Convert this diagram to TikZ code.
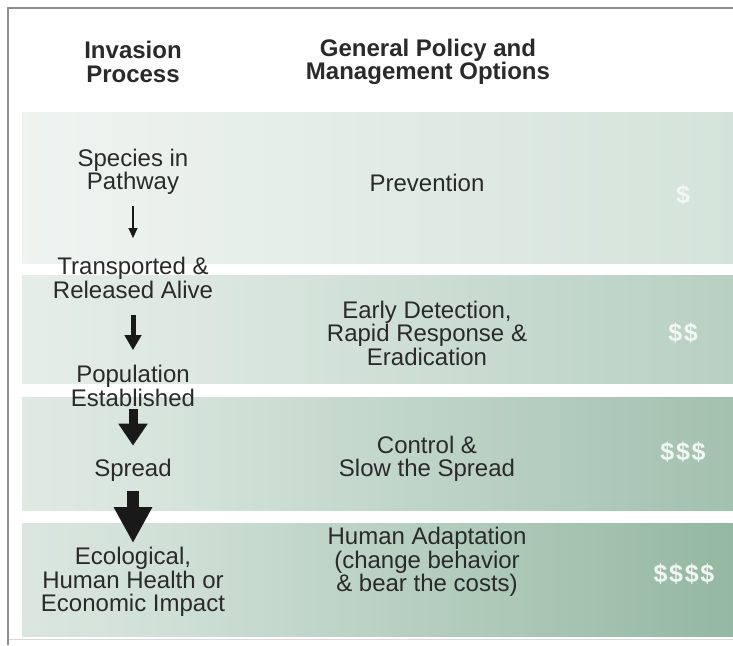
\documentclass[tikz,border=0pt]{standalone}
\usepackage{fontspec}
\setmainfont{Liberation Sans}
\usetikzlibrary{arrows.meta}
\definecolor{txt}{HTML}{2A2A2A}
\definecolor{framecol}{HTML}{8E8E8E}
\definecolor{dollar}{HTML}{F2F7F3}
\definecolor{bAa}{HTML}{F8FAF9}\definecolor{bAb}{HTML}{EAF1ED}\definecolor{bAc}{HTML}{DCE8E1}\definecolor{bAd}{HTML}{C6DBCF}
\definecolor{bBa}{HTML}{F6F8F7}\definecolor{bBb}{HTML}{DEE9E3}\definecolor{bBc}{HTML}{C6D9CE}\definecolor{bBd}{HTML}{A0C1AE}
\definecolor{bCa}{HTML}{F5F8F6}\definecolor{bCb}{HTML}{D6E4DC}\definecolor{bCc}{HTML}{B6CEC0}\definecolor{bCd}{HTML}{80AB92}
\definecolor{bDa}{HTML}{F4F7F5}\definecolor{bDb}{HTML}{D0E0D7}\definecolor{bDc}{HTML}{ABC7B6}\definecolor{bDd}{HTML}{6C9E80}
\pgfdeclarehorizontalshading{bandA}{100bp}{color(0bp)=(bAa); color(35bp)=(bAb); color(60bp)=(bAc); color(100bp)=(bAd)}
\pgfdeclarehorizontalshading{bandB}{100bp}{color(0bp)=(bBa); color(35bp)=(bBb); color(60bp)=(bBc); color(100bp)=(bBd)}
\pgfdeclarehorizontalshading{bandC}{100bp}{color(0bp)=(bCa); color(35bp)=(bCb); color(60bp)=(bCc); color(100bp)=(bCd)}
\pgfdeclarehorizontalshading{bandD}{100bp}{color(0bp)=(bDa); color(35bp)=(bDb); color(60bp)=(bDc); color(100bp)=(bDd)}
\newcommand{\dol}{\$}
\newcommand{\dsep}{\kern1.7pt}
\tikzset{
  lbl/.style={align=center, inner sep=0pt, text=txt, font=\fontsize{24}{23.5}\selectfont},
  hdr/.style={lbl, font=\fontsize{24}{23.5}\selectfont\bfseries},
  cost/.style={inner sep=0pt, text=dollar, font=\fontsize{25}{25}\selectfont\bfseries},
  flow/.style={draw=black!90, line cap=butt},
  arrA/.style={flow, line width=2pt, -{Triangle[width=8.5pt,length=10pt]}},
  arrB/.style={flow, line width=5pt, -{Triangle[width=16pt,length=15pt]}},
  arrC/.style={flow, line width=9pt, -{Triangle[width=28pt,length=22pt]}},
  arrD/.style={flow, line width=12pt, -{Triangle[width=36pt,length=36pt]}}
}
\begin{document}
\begin{tikzpicture}[x=1pt,y=-1pt]
\useasboundingbox (0,0) rectangle (733,645);
\fill[white] (0,0) rectangle (733,645);
% bands
\shade[shading=bandA] (22,112) rectangle (733,263);
\shade[shading=bandB] (22,275) rectangle (733,383);
\shade[shading=bandC] (22,397) rectangle (733,510);
\shade[shading=bandD] (22,523) rectangle (733,636);
% frame
\draw[framecol, line width=1.8pt] (8,645) -- (8,8) -- (733,8);
\draw[black!15, line width=1pt] (9,639.5) -- (733,639.5);
% headers
\node[hdr] (h1) at (133,62) {Invasion\\Process};
\node[hdr] (h2) at (428,62) {General Policy and\\Management Options};
% left column
\node[lbl] (species) at (133,172) {Species in\\Pathway};
\node[lbl] (transp) at (133,278) {Transported \&\\Released Alive};
\node[lbl] (popul) at (133,386) {Population\\Established};
\node[lbl] (spread) at (133,470) {Spread};
\node[lbl] (impact) at (133,582) {Ecological,\\Human Health or\\Economic Impact};
% middle column
\node[lbl] (prev) at (427,183) {Prevention};
\node[lbl] (edrr) at (427,333) {Early Detection,\\Rapid Response \&\\Eradication};
\node[lbl] (ctrl) at (427,459) {Control \&\\Slow the Spread};
\node[lbl] (adapt) at (427,562) {Human Adaptation\\(change behavior\\\& bear the costs)};
% costs
\node[cost] (c1) at (683,195) {\dol};
\node[cost] (c2) at (683,333) {\dol\dsep\dol};
\node[cost] (c3) at (683,452) {\dol\dsep\dol\dsep\dol};
\node[cost] (c4) at (684,574) {\dol\dsep\dol\dsep\dol\dsep\dol};
% arrows
\draw[arrA, shorten <=11pt, shorten >=19pt] (species.south) -- (transp.north);
\draw[arrB, shorten <=16pt, shorten >=15pt] (transp.south) -- (popul.north);
\draw[arrC, shorten <=2pt, shorten >=13pt] (popul.south) -- (spread.north);
\draw[arrD, shorten <=10pt, shorten >=4pt] (spread.south) -- (impact.north);
\end{tikzpicture}
\end{document}
